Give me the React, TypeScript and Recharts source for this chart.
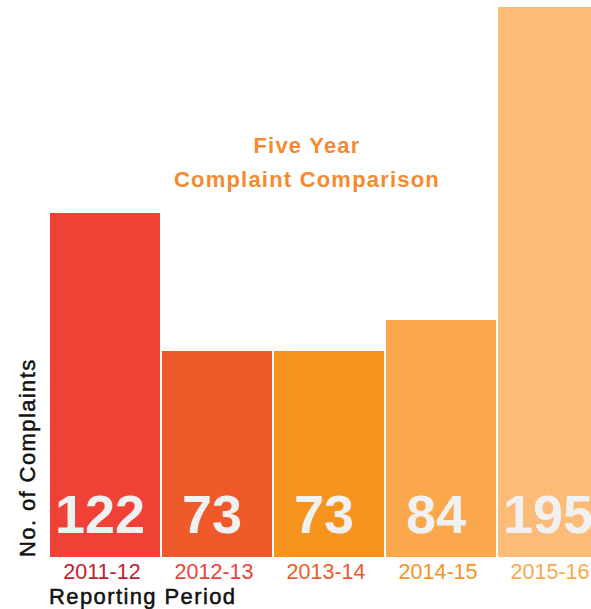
import React from "react";
import {
  Bar,
  BarChart,
  Cell,
  Customized,
  Label,
  LabelList,
  XAxis,
  YAxis,
} from "recharts";

const periods = ["2011-12", "2012-13", "2013-14", "2014-15", "2015-16"];
const complaints = [122, 73, 73, 84, 195];
const barColors = ["#EF4136", "#F05A2A", "#F7941D", "#FAA84B", "#FCBB77"];
const tickColors = ["#C0202F", "#EF4136", "#F05A2A", "#F7941D", "#FAA84B"];
const titleLines = ["Five Year", "Complaint Comparison"];

const data = periods.map((period, i) => ({ period, complaints: complaints[i] }));

const FONT = "'Liberation Sans', Helvetica, Arial, sans-serif";

function PeriodTick(props: any) {
  const { x, y, payload, index } = props;
  return (
    <text
      x={x - 3}
      y={y + 22}
      textAnchor="middle"
      fontFamily={FONT}
      fontSize={21.5}
      fill={tickColors[index] ?? "#333"}
    >
      {payload.value}
    </text>
  );
}

function ValueLabel(props: any) {
  const { x, y, width, height, value } = props;
  return (
    <text
      x={x + width / 2 - 5}
      y={y + height - 24}
      textAnchor="middle"
      fontFamily={FONT}
      fontWeight={700}
      fontSize={54}
      fill="#F1F1F2"
    >
      {value}
    </text>
  );
}

function Title(props: any) {
  const cx = props.offset ? props.offset.left + 258 : 307;
  return (
    <text
      x={cx}
      textAnchor="middle"
      fontFamily={FONT}
      fontSize={22}
      fontWeight={700}
      letterSpacing={1.2}
      fill="#F58A30"
    >
      {titleLines.map((line, i) => (
        <tspan key={line} x={cx} y={153 + i * 34}>
          {line}
        </tspan>
      ))}
    </text>
  );
}

export default function App() {
  return (
    <div
      style={{
        position: "absolute",
        left: 0,
        top: 0,
        width: 591,
        height: 609,
        overflow: "hidden",
        background: "#fff",
      }}
    >
      <BarChart
        width={609}
        height={609}
        data={data}
        margin={{ top: 0, right: 0, bottom: 22, left: 49 }}
        barCategoryGap={1}
      >
        <XAxis
          dataKey="period"
          height={30}
          axisLine={false}
          tickLine={false}
          tickSize={0}
          tickMargin={0}
          interval={0}
          tick={<PeriodTick />}
        >
          <Label
            content={(p: any) => (
              <text
                x={p.viewBox.x}
                y={p.viewBox.y + 47}
                fontFamily={FONT}
                fontSize={22}
                letterSpacing={1.4}
                fill="#111"
                stroke="#111"
                strokeWidth={0.5}
              >
                Reporting Period
              </text>
            )}
          />
        </XAxis>
        <YAxis hide domain={[0, 197.5]} allowDataOverflow />
        <Customized component={Title} />
        <Bar dataKey="complaints" isAnimationActive={false}>
          {data.map((d, i) => (
            <Cell key={d.period} fill={barColors[i]} />
          ))}
          <LabelList dataKey="complaints" content={<ValueLabel />} />
        </Bar>
        <Customized
          component={(p: any) => {
            const bottom = p.offset ? p.offset.top + p.offset.height : 557;
            return (
              <text
                transform={`translate(35, ${bottom}) rotate(-90)`}
                fontFamily={FONT}
                fontSize={22}
                letterSpacing={1.4}
                fill="#111"
                stroke="#111"
                strokeWidth={0.5}
              >
                No. of Complaints
              </text>
            );
          }}
        />
      </BarChart>
    </div>
  );
}
